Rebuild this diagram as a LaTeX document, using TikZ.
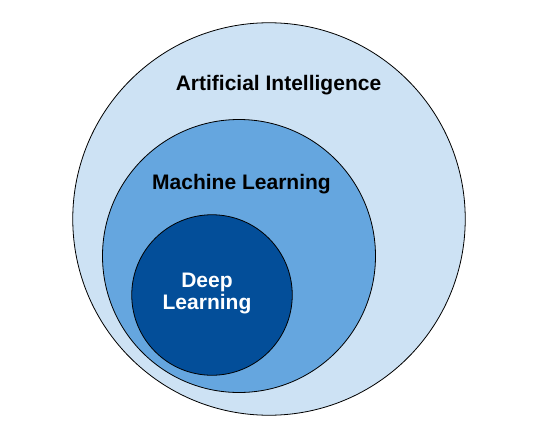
\documentclass[tikz,border=0pt]{standalone}
\usepackage{fontspec}
\setmainfont{Liberation Sans}
\usepackage{tikz}
\usetikzlibrary{positioning}
\definecolor{aifill}{RGB}{205,226,244}
\definecolor{mlfill}{RGB}{101,166,223}
\definecolor{dlfill}{RGB}{3,78,153}
\tikzset{
	field/.style={% one circle of the nesting
		draw=black,
		shape=circle,
		line width=.8pt,
		inner sep=0pt,
		outer sep=0pt
	},
	caption/.style={
		font=\fontsize{21}{21.5}\selectfont\bfseries,
		inner sep=0pt,
		align=center
	}
}

\begin{document}
\begin{tikzpicture}[x=1pt,y=-1pt]
		\useasboundingbox (0,0) rectangle (558,437);
		
		\node (ai) [field, fill=aifill, minimum size=392.5pt] at (269,219) {};
		\node (ml) [field, fill=mlfill, minimum size=273pt] at (239,256) {};
		\node (dl) [field, fill=dlfill, minimum size=160.5pt] at (212,295) {};
		
		\node (aitext) [caption, anchor=base] at (278.5,90) {Artificial Intelligence};
		\node (mltext) [caption, anchor=base] at (241.5,189) {Machine Learning};
		\node (dltext) [caption, text=white, anchor=base] at (207,309) {Deep\\Learning};
	\end{tikzpicture}
\end{document}
